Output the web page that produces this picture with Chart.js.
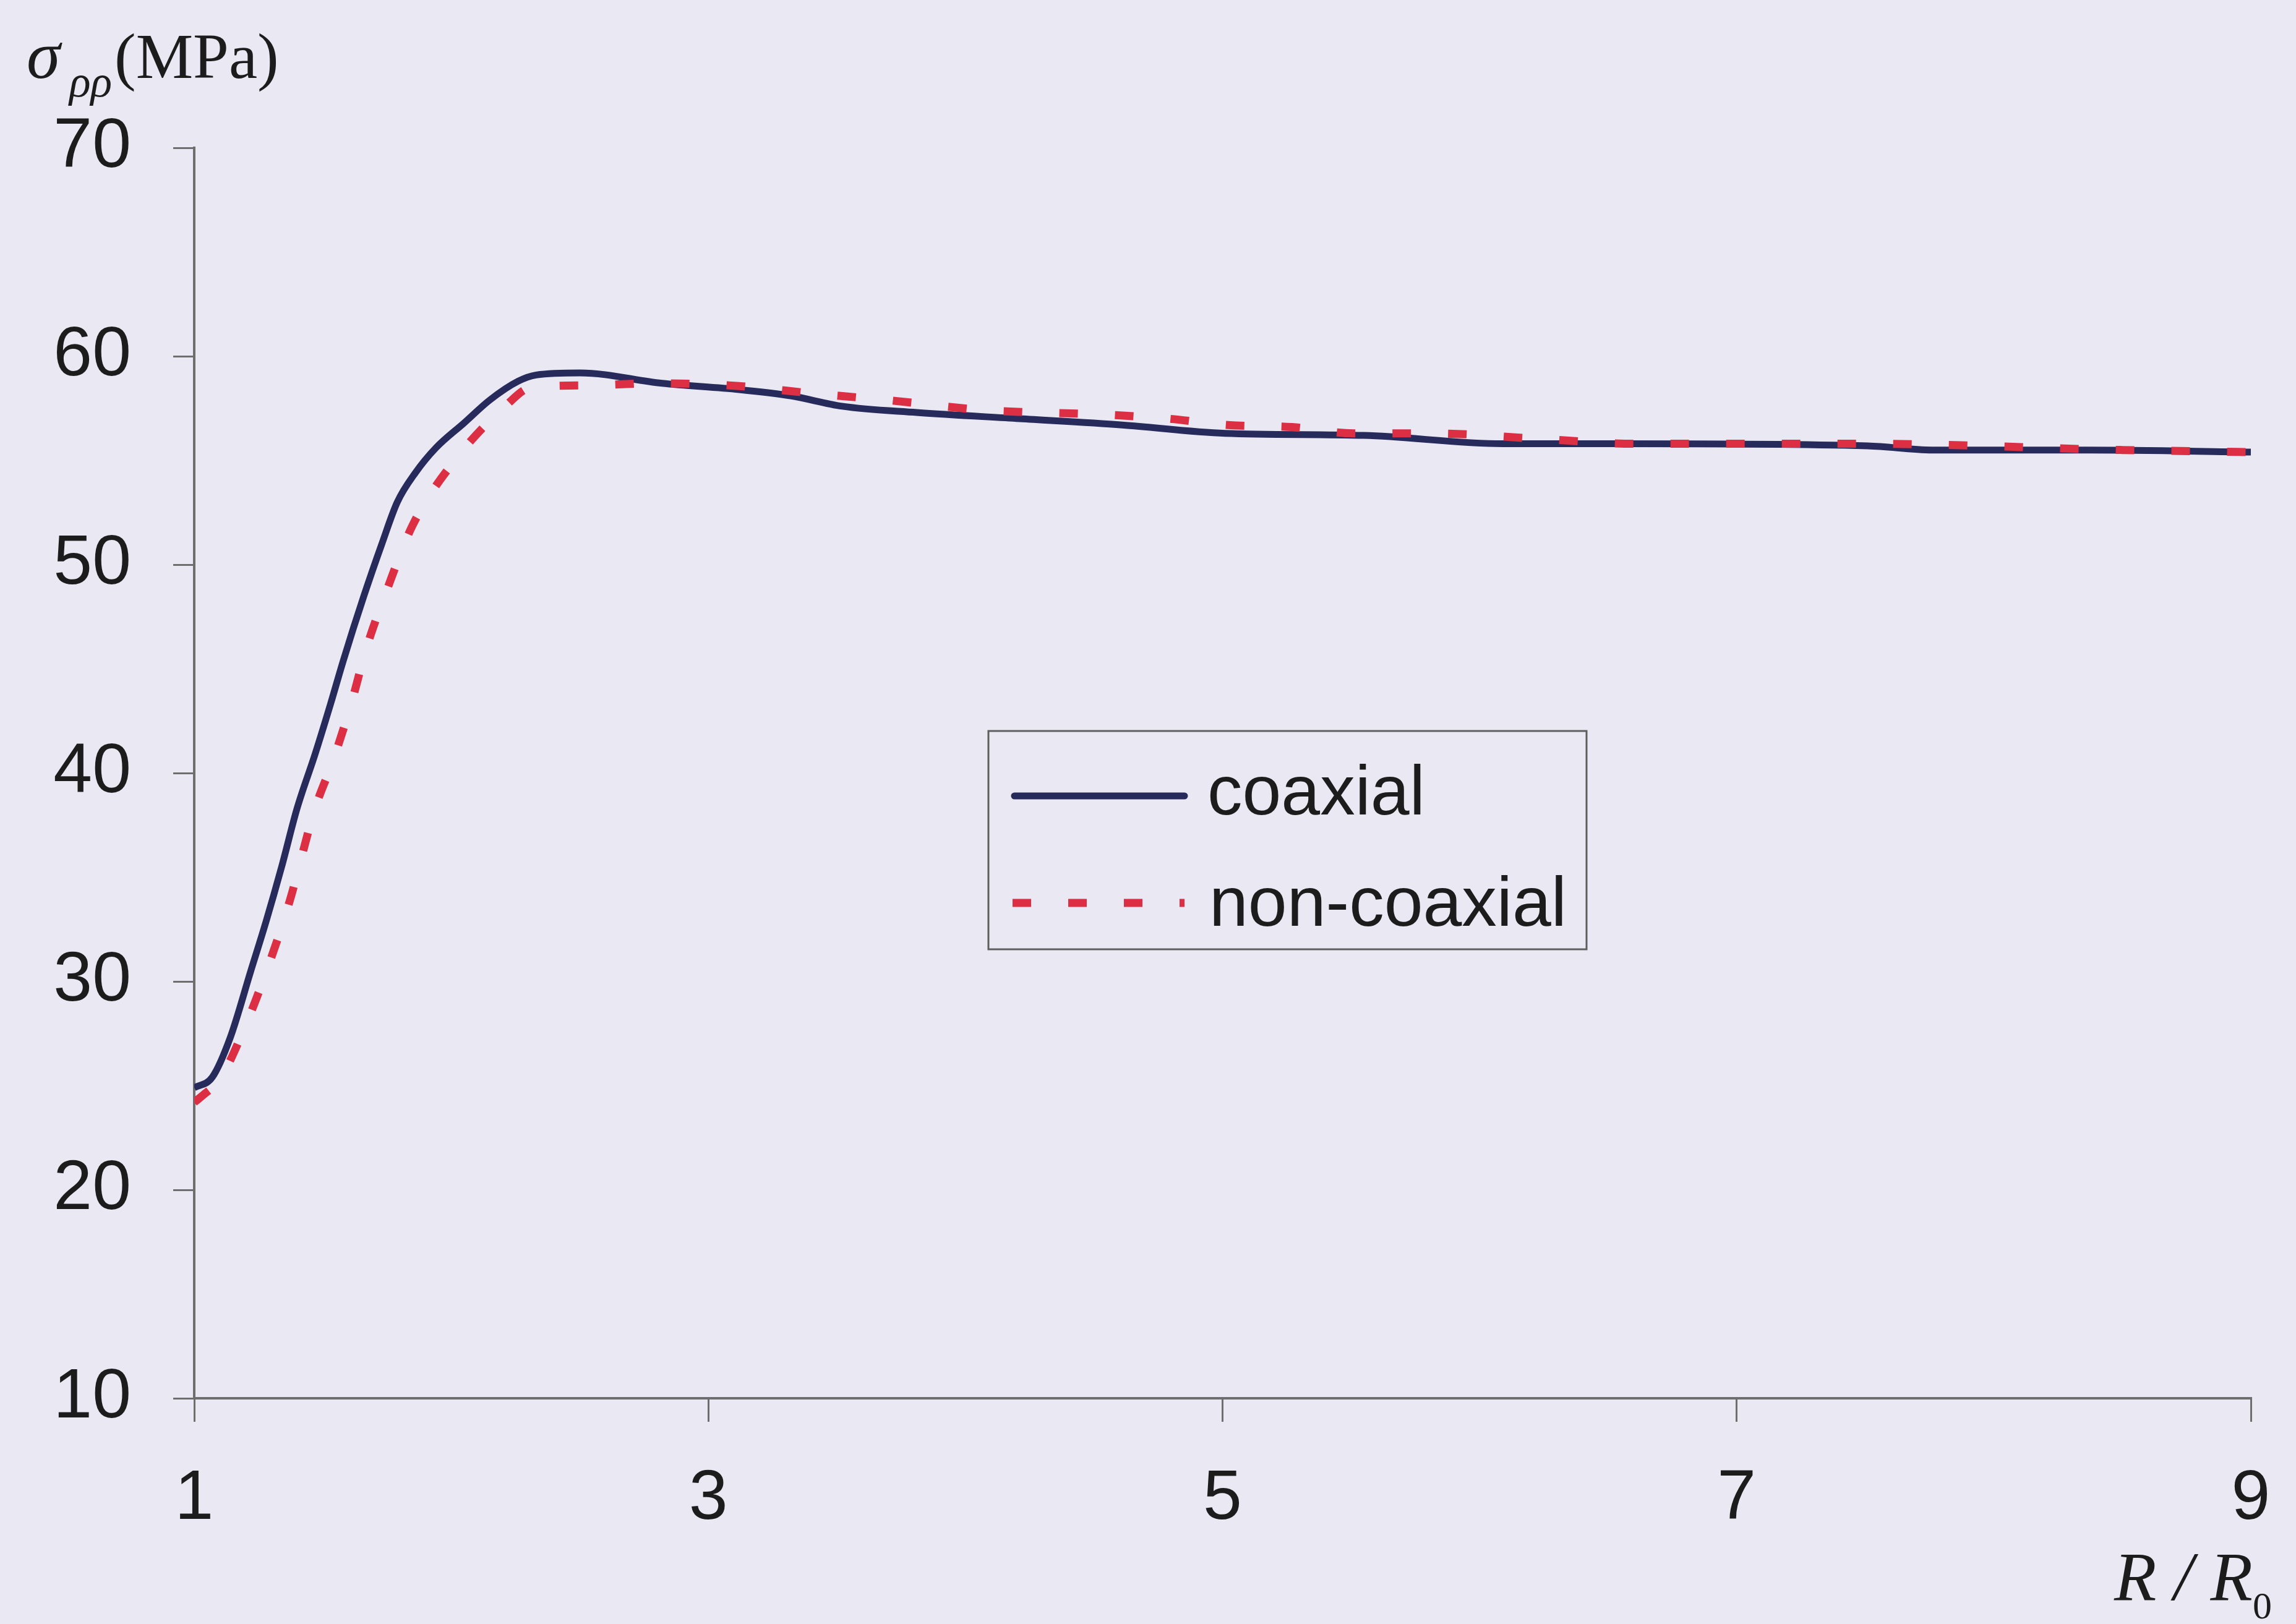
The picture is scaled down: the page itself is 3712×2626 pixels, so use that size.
<!DOCTYPE html>
<html>
<head>
<meta charset="utf-8">
<script src="https://cdn.jsdelivr.net/npm/chart.js@4.4.1/dist/chart.umd.min.js"></script>
<style>
    html, body { margin: 0; padding: 0; background: #eae9f3; overflow: hidden; }
    #wrap { width: 3712px; height: 2626px; position: relative; }
    canvas { display: block; }
</style>
</head>
<body>
<div id="wrap"><canvas id="stressChart"></canvas></div>
<script>
// R/R0 and sigma_rho-rho (MPa)
const coaxialR = [1.0, 1.07, 1.14, 1.22, 1.28, 1.34, 1.40, 1.47, 1.53, 1.58, 1.66, 1.73, 1.79, 1.86, 1.94, 2.05, 2.15, 2.26, 2.33, 2.50, 2.82, 3.12, 3.32, 3.52, 3.81, 4.21, 4.61, 5.01, 5.55, 6.09, 6.53, 7.51, 7.76, 8.37, 9.0];
const coaxialS = [24.9, 25.4, 27.3, 30.5, 32.9, 35.5, 38.3, 40.9, 43.3, 45.4, 48.5, 51.0, 53.0, 54.4, 55.6, 56.8, 57.9, 58.8, 59.1, 59.2, 58.7, 58.4, 58.1, 57.6, 57.3, 57.0, 56.7, 56.3, 56.2, 55.8, 55.8, 55.7, 55.5, 55.5, 55.4];

const nonCoaxialR = [1.0, 1.04, 1.10, 1.20, 1.29, 1.37, 1.47, 1.54, 1.61, 1.67, 1.75, 1.85, 2.02, 2.21, 2.31, 2.53, 2.79, 3.08, 3.42, 3.69, 4.09, 4.54, 4.79, 5.02, 5.27, 5.51, 5.80, 6.28, 6.60, 7.50, 8.50, 9.0];
const nonCoaxialS = [24.2, 24.6, 25.3, 27.9, 30.8, 33.8, 38.3, 40.6, 43.3, 46.0, 48.8, 51.9, 55.1, 57.6, 58.5, 58.6, 58.7, 58.6, 58.2, 57.9, 57.4, 57.2, 57.0, 56.7, 56.6, 56.3, 56.3, 56.0, 55.8, 55.8, 55.5, 55.4];

const seriesNames = ["coaxial", "non-coaxial"];
const xTicks = [1, 3, 5, 7, 9];
const yTicks = [10, 20, 30, 40, 50, 60, 70];

const NAVY = "#262b5b";
const RED = "#dc2f43";
const AXIS = "#6e6e6e";
const TEXT = "#1c1c1c";
const RED_DASH = [30, 60];

function toPoints(xs, ys) {
    return xs.map((x, i) => ({ x: x, y: ys[i] }));
}

// axis titles and the boxed legend, drawn on top of the plot
const decorations = {
    id: "decorations",
    afterDraw(chart) {
        const ctx = chart.ctx;
        ctx.save();
        ctx.fillStyle = TEXT;
        ctx.textBaseline = "alphabetic";
        ctx.textAlign = "left";

        // y title: sigma with subscript rho rho, then (MPa)
        ctx.font = 'italic 110px "Liberation Serif"';
        ctx.fillText("σ", 43, 126);
        ctx.font = 'italic 72px "Liberation Serif"';
        ctx.fillText("ρρ", 112, 156);
        ctx.font = '104px "Liberation Serif"';
        ctx.fillText("(MPa)", 185, 126);

        // x title: R / R0
        ctx.font = 'italic 112px "Liberation Serif"';
        ctx.fillText("R / R", 3418, 2587);
        const w = ctx.measureText("R / R").width;
        ctx.font = '62px "Liberation Serif"';
        ctx.fillText("0", 3418 + w, 2617);

        // legend box
        ctx.strokeStyle = "#5e5e5e";
        ctx.lineWidth = 3;
        ctx.strokeRect(1598, 1182, 967, 353);

        ctx.lineWidth = 11;
        ctx.strokeStyle = NAVY;
        ctx.lineCap = "round";
        ctx.beginPath();
        ctx.moveTo(1640, 1287);
        ctx.lineTo(1915, 1287);
        ctx.stroke();

        ctx.lineCap = "butt";
        ctx.lineWidth = 13;
        ctx.strokeStyle = RED;
        ctx.setLineDash(RED_DASH);
        ctx.beginPath();
        ctx.moveTo(1637, 1460);
        ctx.lineTo(1915, 1460);
        ctx.stroke();
        ctx.setLineDash([]);

        ctx.fillStyle = TEXT;
        ctx.font = '113px "Liberation Sans"';
        ctx.fillText(seriesNames[0], 1952, 1317);
        ctx.fillText(seriesNames[1], 1955, 1497);
        ctx.restore();
    }
};

const ctx = document.getElementById("stressChart").getContext("2d");
new Chart(ctx, {
    type: "scatter",
    data: {
        datasets: [
            {
                label: seriesNames[1],
                data: toPoints(nonCoaxialR, nonCoaxialS),
                showLine: true,
                borderColor: RED,
                borderWidth: 13,
                borderDash: RED_DASH,
                pointRadius: 0,
                cubicInterpolationMode: "monotone"
            },
            {
                label: seriesNames[0],
                data: toPoints(coaxialR, coaxialS),
                showLine: true,
                borderColor: NAVY,
                borderWidth: 11,
                pointRadius: 0,
                cubicInterpolationMode: "monotone"
            }
        ]
    },
    options: {
        responsive: true,
        maintainAspectRatio: false,
        animation: false,
        layout: { padding: { top: 239, right: 73, left: 0, bottom: 0 } },
        plugins: {
            legend: { display: false },
            tooltip: { enabled: false }
        },
        scales: {
            x: {
                type: "linear",
                min: 1,
                max: 9,
                afterBuildTicks: scale => { scale.ticks = xTicks.map(v => ({ value: v })); },
                afterFit: scale => {
                    scale.height = 365;
                    scale.paddingLeft = 0;
                    scale.paddingRight = 32;
                },
                grid: { drawOnChartArea: false, drawTicks: true, tickLength: 38, color: AXIS, lineWidth: 3 },
                border: { display: true, color: AXIS, width: 4 },
                ticks: { color: TEXT, padding: 58, font: { family: "Liberation Sans", size: 113 } }
            },
            y: {
                type: "linear",
                min: 10,
                max: 70,
                afterBuildTicks: scale => { scale.ticks = yTicks.map(v => ({ value: v })); },
                afterFit: scale => { scale.width = 314; },
                grid: { drawOnChartArea: false, drawTicks: true, tickLength: 34, color: AXIS, lineWidth: 3 },
                border: { display: true, color: AXIS, width: 4 },
                ticks: { color: TEXT, padding: 68, font: { family: "Liberation Sans", size: 113 } }
            }
        }
    },
    plugins: [decorations]
});
</script>
</body>
</html>
